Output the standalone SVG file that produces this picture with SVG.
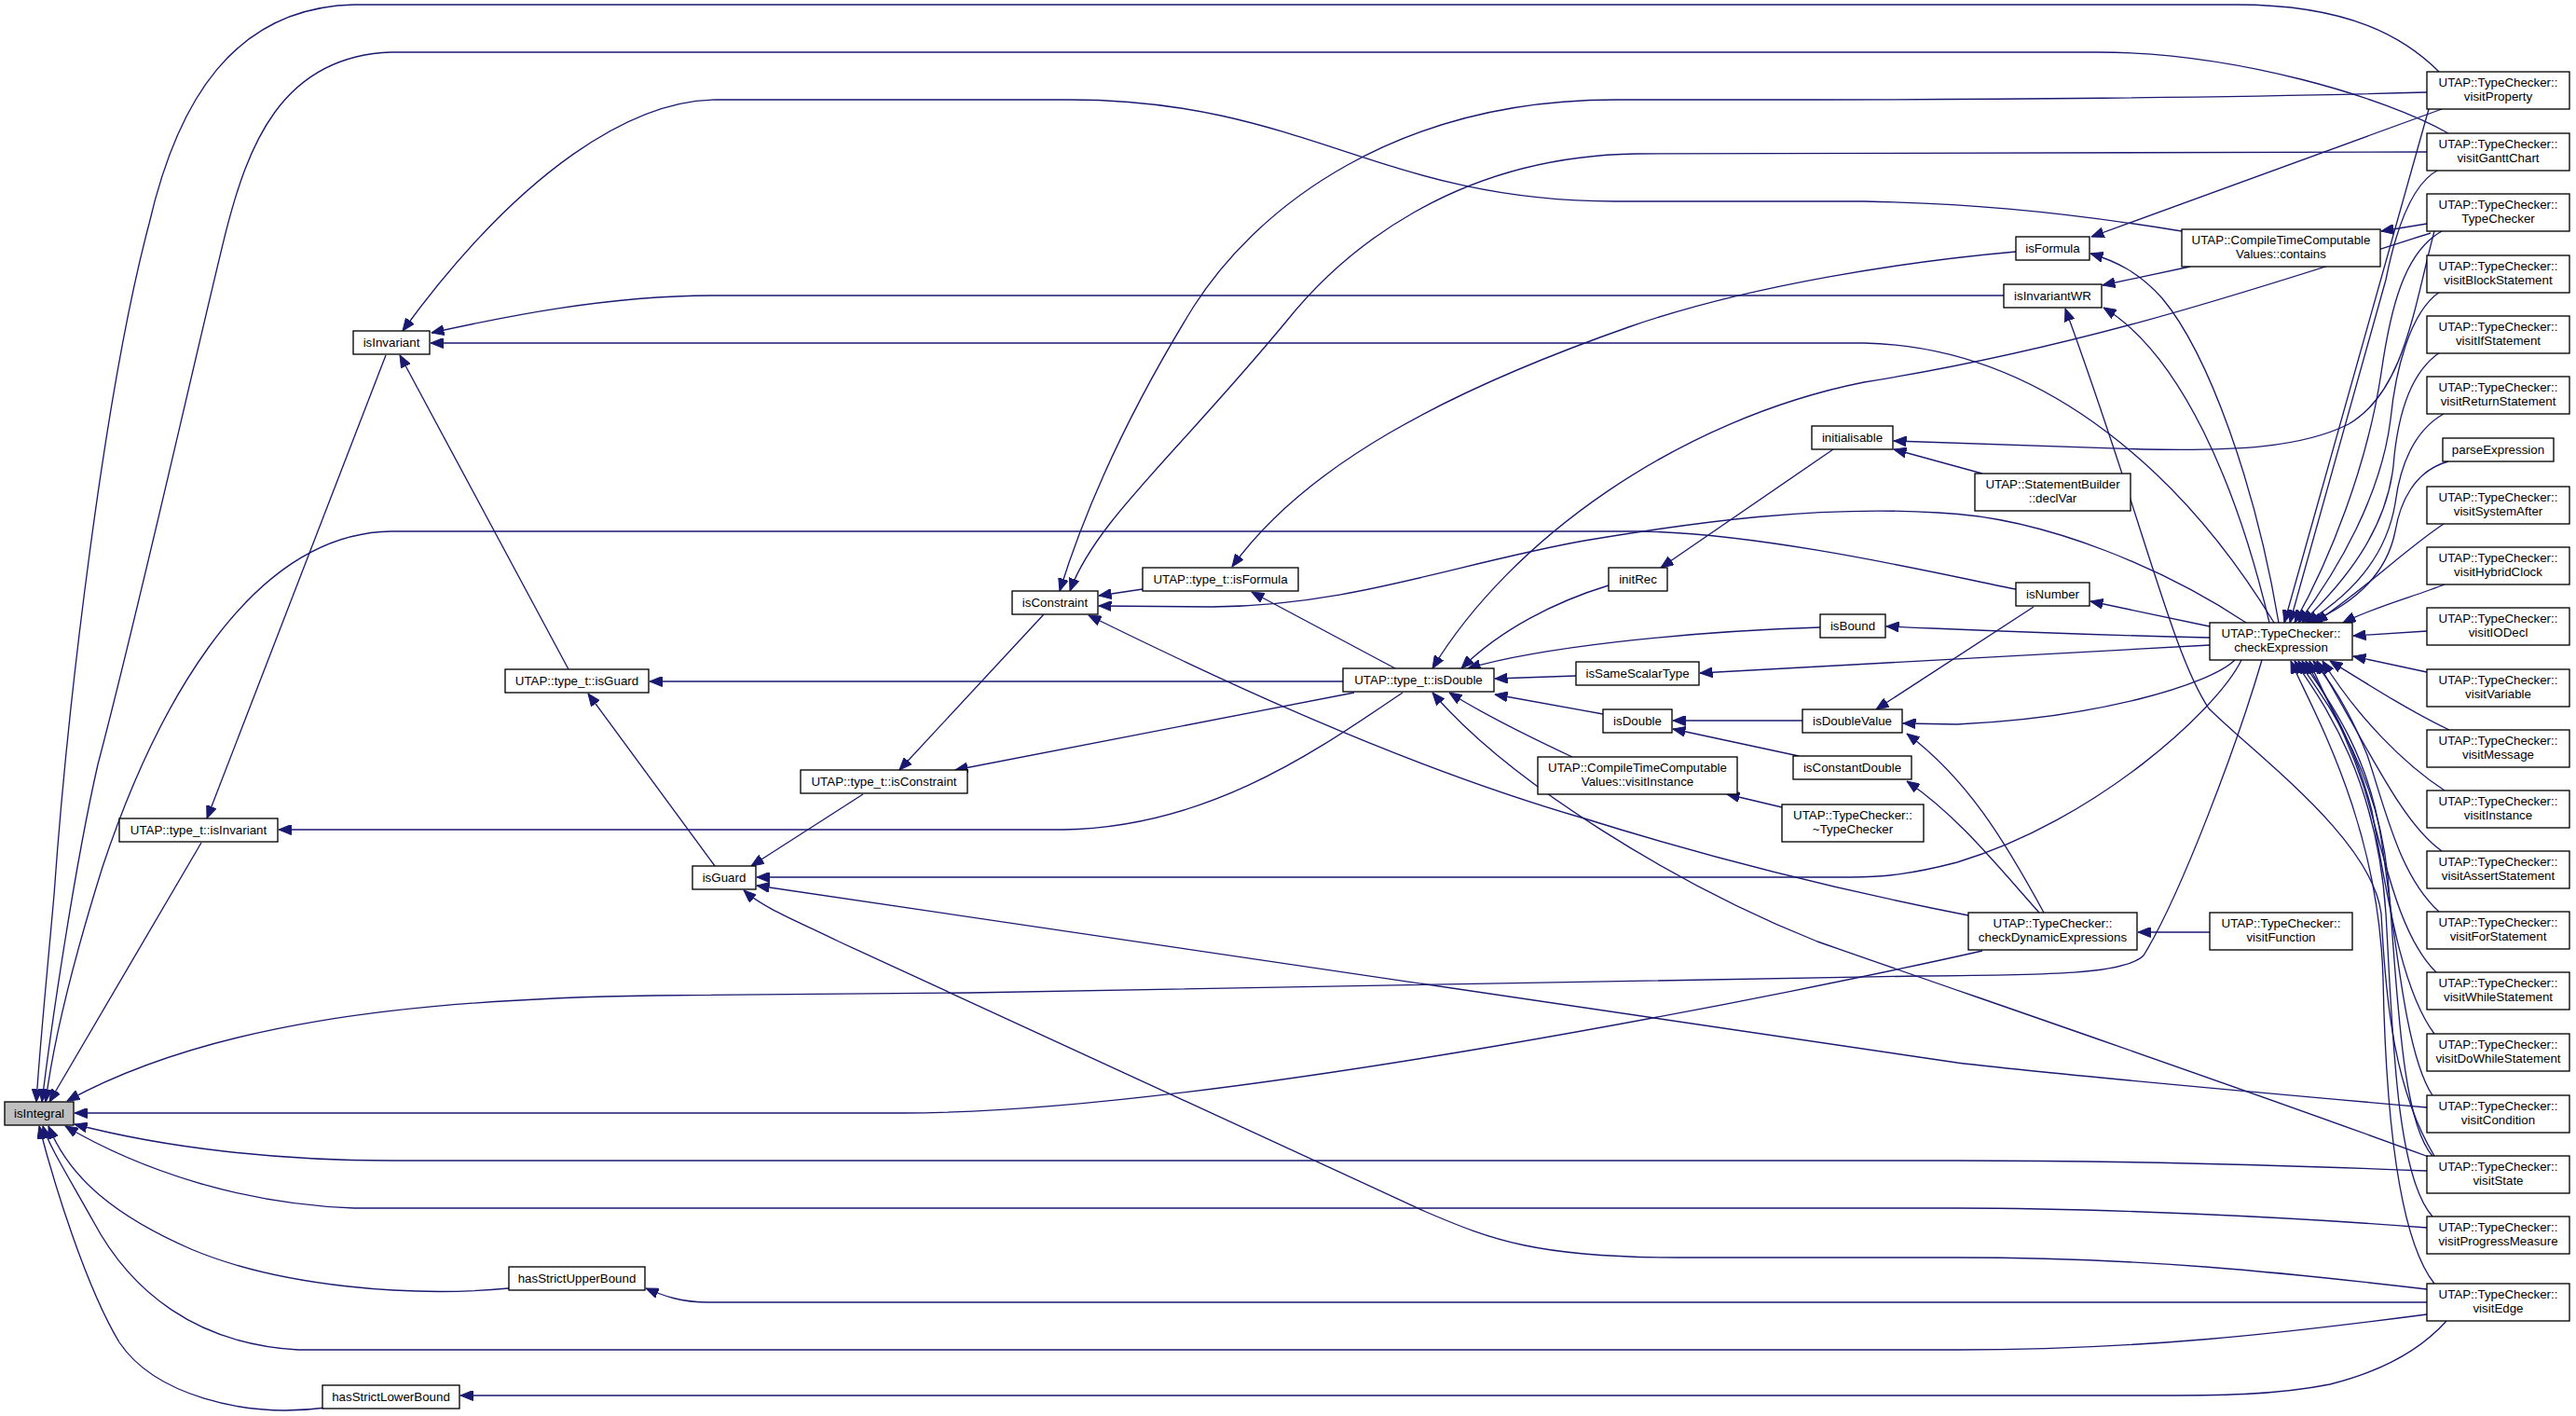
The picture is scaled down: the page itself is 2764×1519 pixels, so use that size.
<svg xmlns="http://www.w3.org/2000/svg" width="2764" height="1519" viewBox="0 0 2764 1519">
<style>
.n rect{fill:#ffffff;stroke:#000000;stroke-width:1.33}
.root rect{fill:#bfbfbf}
.n text{font-family:"Liberation Sans",Arial,Helvetica,sans-serif;font-size:13.33px;text-anchor:middle;fill:#000000}
#edges path{fill:none;stroke:#191970;stroke-width:1.33;marker-end:url(#ah)}
</style>
<defs>
<marker id="ah" viewBox="0 0 14 11" refX="13.5" refY="5.5" markerWidth="14" markerHeight="11" markerUnits="userSpaceOnUse" orient="auto">
<path d="M0,0 L13.5,5.5 L0,11 Z" fill="#191970" stroke="#191970" stroke-width="1"/>
</marker>
</defs>
<rect x="0" y="0" width="2764" height="1519" fill="#ffffff"/>
<g id="edges">
<path d="M2617,77 C2580,40 2520,5 2400,5 L380,5 C250,8 190,110 160,240 C112,420 72,760 58,960 C50,1050 42,1130 39,1182"/>
<path d="M2627,143 C2560,105 2400,56 2250,56 L420,56 C300,60 265,160 242,250 C210,380 150,650 105,820 C80,930 55,1100 45,1182"/>
<path d="M216,904 L53,1182"/>
<path d="M2163,632 C2100,620 1900,572 1760,570 L420,570 C260,572 160,780 110,930 C85,1010 58,1110 49,1182"/>
<path d="M2427,708 C2400,800 2340,960 2300,1025 C2280,1045 2200,1046 2060,1047 L1040,1065 L700,1068 C430,1072 220,1100 72,1181"/>
<path d="M2127,1020 C1950,1060 1300,1194 968,1194 L80,1194"/>
<path d="M2604,1256 C2450,1250 2250,1245 2100,1245 L420,1245 C300,1245 180,1232 80,1206"/>
<path d="M2604,1317 C2450,1305 2250,1296 2100,1296 L380,1296 C260,1292 150,1255 70,1208"/>
<path d="M546,1382 C440,1392 300,1380 205,1340 C125,1305 75,1265 52,1208"/>
<path d="M2604,1410 C2450,1430 2300,1448 2100,1448 L320,1448 C210,1442 140,1385 100,1310 C72,1260 52,1228 46,1208"/>
<path d="M350,1510 C260,1522 165,1495 128,1440 C92,1380 58,1270 42,1208"/>
<path d="M414,381 L222,878"/>
<path d="M610,718 L429,381"/>
<path d="M2341,248 C2200,225 2100,218 2000,216 L1733,216 C1480,216 1400,107 1148,107 L769,107 C680,107 560,180 432,355"/>
<path d="M2150,317 L769,317 C650,317 540,340 463,357"/>
<path d="M2440,668 C2350,520 2200,372 2000,368 L462,368"/>
<path d="M767,929 L631,744"/>
<path d="M1441,731 L697,731"/>
<path d="M926,852 L806,929"/>
<path d="M2405,708 C2380,760 2250,880 2100,925 C2050,938 2020,941 1986,941 L812,941"/>
<path d="M2604,1188 C2400,1170 2200,1152 2100,1140 L812,950"/>
<path d="M2604,1383 C2450,1365 2300,1349 2100,1349 L1800,1349 C1650,1349 1600,1330 1530,1300 L900,1010 C860,990 820,975 798,955"/>
<path d="M2604,1397 L760,1397 C730,1397 712,1390 693,1382"/>
<path d="M2625,1417 C2600,1445 2560,1470 2500,1485 C2440,1497 2380,1497 2300,1497 L494,1497"/>
<path d="M1120,659 L965,826"/>
<path d="M1453,743 L1025,826"/>
<path d="M1505,743 C1420,800 1300,888 1140,890 L299,890"/>
<path d="M2604,99 C2400,105 2100,107 1950,107 L1733,107 C1500,107 1350,220 1280,330 C1200,460 1160,560 1137,634"/>
<path d="M2604,163 L1755,165 C1560,168 1440,270 1380,345 C1260,490 1175,560 1148,634"/>
<path d="M1226,632 L1179,639"/>
<path d="M2410,668 C2330,615 2200,555 2080,550 C1950,542 1820,560 1700,580 C1560,605 1450,650 1300,651 L1179,650"/>
<path d="M2112,982 C2000,960 1850,925 1700,878 C1500,820 1300,725 1168,660"/>
<path d="M2163,270 C2050,280 1880,305 1750,350 C1550,420 1400,500 1322,608"/>
<path d="M1497,717 L1343,635"/>
<path d="M2608,250 C2450,300 2250,370 2000,410 C1800,450 1620,580 1537,717"/>
<path d="M1726,628 C1670,645 1610,675 1568,717"/>
<path d="M1953,673 C1800,678 1650,695 1575,717"/>
<path d="M1691,725 L1604,728"/>
<path d="M1720,766 L1604,745"/>
<path d="M1687,812 C1640,790 1590,765 1555,743"/>
<path d="M2606,1241 C2400,1165 2150,1080 1950,1010 C1800,950 1620,840 1537,743"/>
<path d="M1967,482 L1782,609"/>
<path d="M1934,773 L1795,773"/>
<path d="M1930,811 L1795,782"/>
<path d="M1912,866 L1853,852"/>
<path d="M2612,248 C2590,330 2580,420 2520,455 C2470,480 2400,484 2300,482 L2032,473"/>
<path d="M2127,508 L2032,482"/>
<path d="M2182,651 L2013,761"/>
<path d="M2398,708 C2370,735 2250,770 2100,777 L2042,776"/>
<path d="M2193,979 C2150,900 2110,835 2046,787"/>
<path d="M2188,979 C2140,925 2100,875 2046,838"/>
<path d="M2371,1000 L2294,1000"/>
<path d="M2604,240 L2555,248"/>
<path d="M2350,286 L2256,306"/>
<path d="M2435,668 C2400,520 2340,380 2257,330"/>
<path d="M2612,1240 C2570,1170 2560,1080 2555,980 C2545,900 2420,810 2370,760 C2330,700 2300,560 2216,331"/>
<path d="M2620,117 L2244,254"/>
<path d="M2445,668 C2420,520 2370,380 2320,320 C2295,292 2270,280 2243,272"/>
<path d="M2371,672 L2243,645"/>
<path d="M2371,684 C2200,680 2100,675 2024,672"/>
<path d="M2371,692 L1824,722"/>
<path d="M2606,117 L2451,668"/>
<path d="M2617,182 C2590,195 2572,240 2560,300 L2457,668"/>
<path d="M2620,248 C2580,270 2565,330 2555,400 C2540,500 2500,600 2462,668"/>
<path d="M2618,313 C2585,335 2570,400 2565,450 C2555,530 2510,610 2466,668"/>
<path d="M2618,378 C2585,400 2572,450 2568,500 C2560,570 2515,625 2470,668"/>
<path d="M2622,444 C2590,462 2575,500 2570,540 C2560,600 2520,640 2474,668"/>
<path d="M2627,495 C2590,505 2575,540 2570,570 C2560,620 2520,650 2478,668"/>
<path d="M2622,562 C2580,590 2540,630 2484,668"/>
<path d="M2623,627 C2590,640 2550,650 2514,668"/>
<path d="M2604,677 L2525,682"/>
<path d="M2604,721 L2525,704"/>
<path d="M2628,783 C2590,765 2550,740 2500,709"/>
<path d="M2623,848 C2580,820 2530,770 2492,709"/>
<path d="M2620,913 C2580,885 2550,820 2486,709"/>
<path d="M2617,978 C2575,940 2560,870 2540,810 C2520,760 2500,730 2482,709"/>
<path d="M2614,1043 C2570,1000 2555,900 2535,840 C2515,780 2490,740 2478,709"/>
<path d="M2612,1109 C2575,1060 2560,950 2545,870 C2525,790 2490,740 2474,709"/>
<path d="M2610,1175 C2580,1130 2570,1000 2555,900 C2540,800 2490,740 2470,709"/>
<path d="M2610,1240 C2575,1200 2572,1050 2562,940 C2550,820 2490,745 2466,709"/>
<path d="M2610,1305 C2570,1260 2567,1100 2560,980 C2550,830 2490,750 2462,709"/>
<path d="M2612,1377 C2575,1330 2560,1200 2557,1050 C2552,880 2480,760 2458,709"/>
</g>
<g id="isIntegral" class="n root"><rect x="5" y="1182" width="74" height="25"/><text x="42" y="1198.5">isIntegral</text></g>
<g id="type_t_isInvariant" class="n"><rect x="128" y="878" width="170" height="25"/><text x="213" y="894.5">UTAP::type_t::isInvariant</text></g>
<g id="isInvariant" class="n"><rect x="379" y="355" width="82" height="25"/><text x="420" y="371.5">isInvariant</text></g>
<g id="hasStrictLowerBound" class="n"><rect x="346" y="1486" width="147" height="25"/><text x="419.5" y="1502.5">hasStrictLowerBound</text></g>
<g id="type_t_isGuard" class="n"><rect x="542" y="718" width="154" height="25"/><text x="619" y="734.5">UTAP::type_t::isGuard</text></g>
<g id="hasStrictUpperBound" class="n"><rect x="546" y="1359" width="146" height="25"/><text x="619" y="1375.5">hasStrictUpperBound</text></g>
<g id="isGuard" class="n"><rect x="743" y="929" width="68" height="25"/><text x="777" y="945.5">isGuard</text></g>
<g id="type_t_isConstraint" class="n"><rect x="859" y="826" width="179" height="25"/><text x="948.5" y="842.5">UTAP::type_t::isConstraint</text></g>
<g id="isConstraint" class="n"><rect x="1086" y="634" width="92" height="25"/><text x="1132" y="650.5">isConstraint</text></g>
<g id="type_t_isFormula" class="n"><rect x="1226" y="609" width="167" height="25"/><text x="1309.5" y="625.5">UTAP::type_t::isFormula</text></g>
<g id="type_t_isDouble" class="n"><rect x="1441" y="717" width="162" height="25"/><text x="1522" y="733.5">UTAP::type_t::isDouble</text></g>
<g id="initRec" class="n"><rect x="1726" y="609" width="63" height="25"/><text x="1757.5" y="625.5">initRec</text></g>
<g id="isSameScalarType" class="n"><rect x="1691" y="710" width="132" height="25"/><text x="1757" y="726.5">isSameScalarType</text></g>
<g id="isDouble" class="n"><rect x="1720" y="761" width="74" height="25"/><text x="1757" y="777.5">isDouble</text></g>
<g id="ctcv_visitInstance" class="n"><rect x="1650" y="812" width="214" height="40"/><text x="1757" y="828.3">UTAP::CompileTimeComputable</text><text x="1757" y="843.3">Values::visitInstance</text></g>
<g id="initialisable" class="n"><rect x="1944" y="457" width="87" height="25"/><text x="1987.5" y="473.5">initialisable</text></g>
<g id="isBound" class="n"><rect x="1953" y="659" width="70" height="25"/><text x="1988" y="675.5">isBound</text></g>
<g id="isDoubleValue" class="n"><rect x="1934" y="761" width="107" height="25"/><text x="1987.5" y="777.5">isDoubleValue</text></g>
<g id="isConstantDouble" class="n"><rect x="1924" y="811" width="127" height="25"/><text x="1987.5" y="827.5">isConstantDouble</text></g>
<g id="tc_dtor" class="n"><rect x="1912" y="863" width="152" height="40"/><text x="1988" y="879.3">UTAP::TypeChecker::</text><text x="1988" y="894.3">~TypeChecker</text></g>
<g id="isFormula" class="n"><rect x="2163" y="254" width="79" height="25"/><text x="2202.5" y="270.5">isFormula</text></g>
<g id="isInvariantWR" class="n"><rect x="2150" y="305" width="105" height="25"/><text x="2202.5" y="321.5">isInvariantWR</text></g>
<g id="declVar" class="n"><rect x="2119" y="508" width="167" height="40"/><text x="2202.5" y="524.3">UTAP::StatementBuilder</text><text x="2202.5" y="539.3">::declVar</text></g>
<g id="isNumber" class="n"><rect x="2163" y="625" width="79" height="25"/><text x="2202.5" y="641.5">isNumber</text></g>
<g id="checkDynamicExpressions" class="n"><rect x="2112" y="979" width="181" height="40"/><text x="2202.5" y="995.3">UTAP::TypeChecker::</text><text x="2202.5" y="1010.3">checkDynamicExpressions</text></g>
<g id="contains" class="n"><rect x="2341" y="246" width="213" height="40"/><text x="2447.5" y="262.3">UTAP::CompileTimeComputable</text><text x="2447.5" y="277.3">Values::contains</text></g>
<g id="checkExpression" class="n"><rect x="2371" y="668" width="153" height="40"/><text x="2447.5" y="684.3">UTAP::TypeChecker::</text><text x="2447.5" y="699.3">checkExpression</text></g>
<g id="visitFunction" class="n"><rect x="2371" y="979" width="153" height="40"/><text x="2447.5" y="995.3">UTAP::TypeChecker::</text><text x="2447.5" y="1010.3">visitFunction</text></g>
<g id="visitProperty" class="n"><rect x="2604" y="77" width="153" height="40"/><text x="2680.5" y="93.3">UTAP::TypeChecker::</text><text x="2680.5" y="108.3">visitProperty</text></g>
<g id="visitGanttChart" class="n"><rect x="2604" y="143" width="153" height="40"/><text x="2680.5" y="159.3">UTAP::TypeChecker::</text><text x="2680.5" y="174.3">visitGanttChart</text></g>
<g id="TypeChecker" class="n"><rect x="2604" y="208" width="153" height="40"/><text x="2680.5" y="224.3">UTAP::TypeChecker::</text><text x="2680.5" y="239.3">TypeChecker</text></g>
<g id="visitBlockStatement" class="n"><rect x="2604" y="274" width="153" height="40"/><text x="2680.5" y="290.3">UTAP::TypeChecker::</text><text x="2680.5" y="305.3">visitBlockStatement</text></g>
<g id="visitIfStatement" class="n"><rect x="2604" y="339" width="153" height="40"/><text x="2680.5" y="355.3">UTAP::TypeChecker::</text><text x="2680.5" y="370.3">visitIfStatement</text></g>
<g id="visitReturnStatement" class="n"><rect x="2604" y="404" width="153" height="40"/><text x="2680.5" y="420.3">UTAP::TypeChecker::</text><text x="2680.5" y="435.3">visitReturnStatement</text></g>
<g id="parseExpression" class="n"><rect x="2621" y="470" width="119" height="25"/><text x="2680.5" y="486.5">parseExpression</text></g>
<g id="visitSystemAfter" class="n"><rect x="2604" y="522" width="153" height="40"/><text x="2680.5" y="538.3">UTAP::TypeChecker::</text><text x="2680.5" y="553.3">visitSystemAfter</text></g>
<g id="visitHybridClock" class="n"><rect x="2604" y="587" width="153" height="40"/><text x="2680.5" y="603.3">UTAP::TypeChecker::</text><text x="2680.5" y="618.3">visitHybridClock</text></g>
<g id="visitIODecl" class="n"><rect x="2604" y="652" width="153" height="40"/><text x="2680.5" y="668.3">UTAP::TypeChecker::</text><text x="2680.5" y="683.3">visitIODecl</text></g>
<g id="visitVariable" class="n"><rect x="2604" y="718" width="153" height="40"/><text x="2680.5" y="734.3">UTAP::TypeChecker::</text><text x="2680.5" y="749.3">visitVariable</text></g>
<g id="visitMessage" class="n"><rect x="2604" y="783" width="153" height="40"/><text x="2680.5" y="799.3">UTAP::TypeChecker::</text><text x="2680.5" y="814.3">visitMessage</text></g>
<g id="visitInstance" class="n"><rect x="2604" y="848" width="153" height="40"/><text x="2680.5" y="864.3">UTAP::TypeChecker::</text><text x="2680.5" y="879.3">visitInstance</text></g>
<g id="visitAssertStatement" class="n"><rect x="2604" y="913" width="153" height="40"/><text x="2680.5" y="929.3">UTAP::TypeChecker::</text><text x="2680.5" y="944.3">visitAssertStatement</text></g>
<g id="visitForStatement" class="n"><rect x="2604" y="978" width="153" height="40"/><text x="2680.5" y="994.3">UTAP::TypeChecker::</text><text x="2680.5" y="1009.3">visitForStatement</text></g>
<g id="visitWhileStatement" class="n"><rect x="2604" y="1043" width="153" height="40"/><text x="2680.5" y="1059.3">UTAP::TypeChecker::</text><text x="2680.5" y="1074.3">visitWhileStatement</text></g>
<g id="visitDoWhileStatement" class="n"><rect x="2604" y="1109" width="153" height="40"/><text x="2680.5" y="1125.3">UTAP::TypeChecker::</text><text x="2680.5" y="1140.3">visitDoWhileStatement</text></g>
<g id="visitCondition" class="n"><rect x="2604" y="1175" width="153" height="40"/><text x="2680.5" y="1191.3">UTAP::TypeChecker::</text><text x="2680.5" y="1206.3">visitCondition</text></g>
<g id="visitState" class="n"><rect x="2604" y="1240" width="153" height="40"/><text x="2680.5" y="1256.3">UTAP::TypeChecker::</text><text x="2680.5" y="1271.3">visitState</text></g>
<g id="visitProgressMeasure" class="n"><rect x="2604" y="1305" width="153" height="40"/><text x="2680.5" y="1321.3">UTAP::TypeChecker::</text><text x="2680.5" y="1336.3">visitProgressMeasure</text></g>
<g id="visitEdge" class="n"><rect x="2604" y="1377" width="153" height="40"/><text x="2680.5" y="1393.3">UTAP::TypeChecker::</text><text x="2680.5" y="1408.3">visitEdge</text></g>
</svg>
